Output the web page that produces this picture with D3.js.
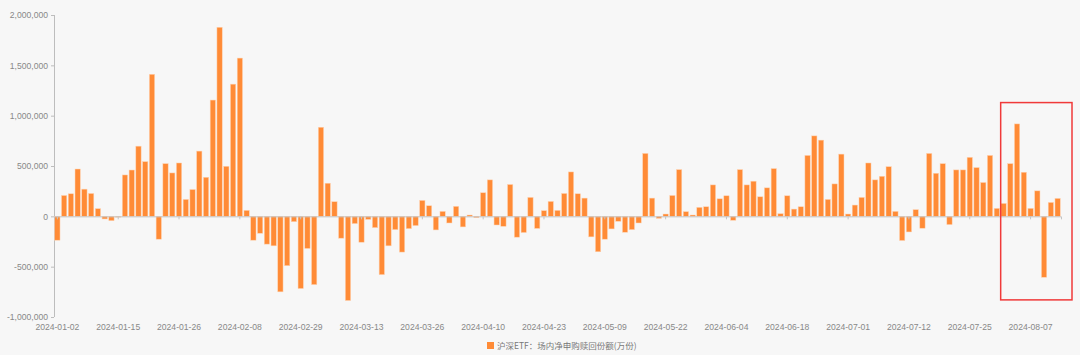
<!DOCTYPE html>
<html><head><meta charset="utf-8">
<script src="https://cdn.jsdelivr.net/npm/d3@7/dist/d3.min.js"></script>
<style>
html,body{margin:0;padding:0;background:#f7f7f7;}
svg{display:block;}
</style></head>
<body><svg id="c" width="1080" height="355"></svg>
<script>
const dates = [
"2024-01-02","2024-01-03","2024-01-04","2024-01-05","2024-01-08","2024-01-09","2024-01-10","2024-01-11","2024-01-12","2024-01-15",
"2024-01-16","2024-01-17","2024-01-18","2024-01-19","2024-01-22","2024-01-23","2024-01-24","2024-01-25","2024-01-26","2024-01-29",
"2024-01-30","2024-01-31","2024-02-01","2024-02-02","2024-02-05","2024-02-06","2024-02-07","2024-02-08","2024-02-19","2024-02-20",
"2024-02-21","2024-02-22","2024-02-23","2024-02-26","2024-02-27","2024-02-28","2024-02-29","2024-03-01","2024-03-04","2024-03-05",
"2024-03-06","2024-03-07","2024-03-08","2024-03-11","2024-03-12","2024-03-13","2024-03-14","2024-03-15","2024-03-18","2024-03-19",
"2024-03-20","2024-03-21","2024-03-22","2024-03-25","2024-03-26","2024-03-27","2024-03-28","2024-03-29","2024-04-01","2024-04-02",
"2024-04-03","2024-04-08","2024-04-09","2024-04-10","2024-04-11","2024-04-12","2024-04-15","2024-04-16","2024-04-17","2024-04-18",
"2024-04-19","2024-04-22","2024-04-23","2024-04-24","2024-04-25","2024-04-26","2024-04-29","2024-04-30","2024-05-06","2024-05-07",
"2024-05-08","2024-05-09","2024-05-10","2024-05-13","2024-05-14","2024-05-15","2024-05-16","2024-05-17","2024-05-20","2024-05-21",
"2024-05-22","2024-05-23","2024-05-24","2024-05-27","2024-05-28","2024-05-29","2024-05-30","2024-05-31","2024-06-03","2024-06-04",
"2024-06-05","2024-06-06","2024-06-07","2024-06-11","2024-06-12","2024-06-13","2024-06-14","2024-06-17","2024-06-18","2024-06-19",
"2024-06-20","2024-06-21","2024-06-24","2024-06-25","2024-06-26","2024-06-27","2024-06-28","2024-07-01","2024-07-02","2024-07-03",
"2024-07-04","2024-07-05","2024-07-08","2024-07-09","2024-07-10","2024-07-11","2024-07-12","2024-07-15","2024-07-16","2024-07-17",
"2024-07-18","2024-07-19","2024-07-22","2024-07-23","2024-07-24","2024-07-25","2024-07-26","2024-07-29","2024-07-30","2024-07-31",
"2024-08-01","2024-08-02","2024-08-05","2024-08-06","2024-08-07","2024-08-08","2024-08-09","2024-08-12","2024-08-13"
];
const values = [
-237000,207000,224000,470000,270000,227000,76000,-26000,-43000,-8000,
411000,460000,697000,543000,1411000,-227000,523000,431000,530000,168000,
266000,648000,388000,1155000,1878000,497000,1313000,1572000,59000,-237000,
-168000,-276000,-293000,-750000,-490000,-53000,-717000,-319000,-678000,885000,
329000,145000,-217000,-836000,-72000,-257000,-30000,-112000,-579000,-293000,
-132000,-355000,-122000,-92000,158000,105000,-135000,49000,-66000,99000,
-105000,13000,-13000,234000,362000,-86000,-99000,316000,-207000,-161000,
188000,-120000,56000,148000,59000,227000,441000,224000,181000,-204000,
-352000,-227000,-125000,-49000,-158000,-132000,-66000,625000,181000,-20000,
23000,207000,464000,46000,13000,89000,95000,312000,174000,204000,
-39000,464000,312000,349000,194000,283000,474000,26000,204000,72000,
95000,605000,799000,757000,168000,322000,618000,23000,112000,188000,
530000,362000,398000,493000,49000,-240000,-155000,66000,-118000,625000,
428000,523000,-82000,461000,461000,586000,484000,336000,605000,79000,
128000,523000,918000,438000,79000,253000,-605000,138000,178000
];
const yTicks = [-1000000,-500000,0,500000,1000000,1500000,2000000];
const labelEvery = 9;
const seriesName = "沪深ETF：场内净申购赎回份额(万份)";
const highlightFrom = "2024-08-01";
const highlightRange = [-830000, 1130000];

const svg = d3.select("#c");
const L = 54, R = 1061, T = 15, B = 317;
const x = d3.scaleBand().domain(dates).range([L, R]).padding(0);
const y = d3.scaleLinear().domain([-1000000, 2000000]).range([B, T]);
const fmt = v => d3.format(",")(v).replace("\u2212", "-");
const font = "'Liberation Sans', Arial, sans-serif";

// y axis
const ya = svg.append("g").attr("transform", `translate(${L},0)`)
  .call(d3.axisLeft(y).tickValues(yTicks).tickFormat(fmt).tickSize(3).tickPadding(3));
ya.select(".domain").attr("stroke", "#bdbdbd").attr("d", `M0.5,${T}V${B}`);
ya.selectAll(".tick line").attr("stroke", "#bdbdbd");
ya.selectAll(".tick text").attr("fill", "#888").style("font-family", font).style("font-size", "8.6px");

// bars
const bw = x.bandwidth() * 0.78;
svg.append("g").selectAll("rect").data(dates).join("rect")
  .attr("x", (d) => x(d) + (x.bandwidth() - bw) / 2)
  .attr("y", (d, i) => y(Math.max(0, values[i])))
  .attr("width", bw)
  .attr("height", (d, i) => Math.abs(y(values[i]) - y(0)))
  .attr("fill", "#ff8b36")
  .attr("stroke", "#ffd2b0").attr("stroke-width", 0.5);

// x axis at zero
const xa = svg.append("g").attr("transform", `translate(0,${y(0)})`)
  .call(d3.axisBottom(x).tickValues(dates.filter((d, i) => i % labelEvery === 0)).tickSize(3).tickFormat(""));
xa.select(".domain").attr("stroke", "#c4c4c4");
xa.selectAll(".tick line").attr("stroke", "#c4c4c4");

// x labels at bottom
svg.append("g").selectAll("text").data(dates.filter((d, i) => i % labelEvery === 0)).join("text")
  .attr("x", d => x(d) + x.bandwidth() / 2).attr("y", 330)
  .attr("text-anchor", "middle").attr("fill", "#888")
  .style("font-family", font).style("font-size", "8.6px").text(d => d);

// highlight box
const hx0 = x(highlightFrom) + 0.5, hx1 = R + 11;
svg.append("rect").attr("x", hx0).attr("y", y(highlightRange[1]))
  .attr("width", hx1 - hx0).attr("height", y(highlightRange[0]) - y(highlightRange[1]))
  .attr("fill", "none").attr("stroke", "#f03a3a").attr("stroke-width", 1.5);

// legend
const lg = svg.append("g").attr("transform", "translate(487,342)");
lg.append("rect").attr("width", 7).attr("height", 7).attr("fill", "#ff8b36");
lg.append("text").attr("x", 10).attr("y", 6.5).attr("fill", "#777")
  .style("font-family", "'Noto Sans CJK SC', sans-serif").style("font-size", "8.5px").text(seriesName);
</script></body></html>
